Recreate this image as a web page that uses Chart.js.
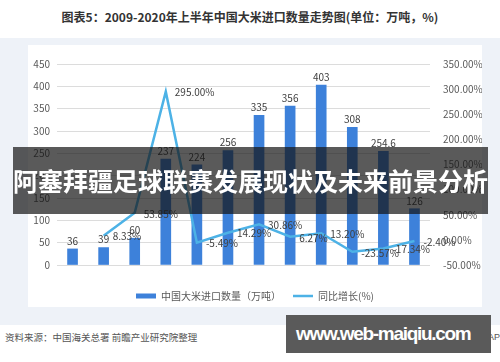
<!DOCTYPE html>
<html>
<head>
<meta charset="utf-8">
<script src="https://cdn.jsdelivr.net/npm/chart.js@4.4.0/dist/chart.umd.min.js"></script>
<style>
body{margin:0;width:500px;height:362px;background:#fff;position:relative;overflow:hidden;font-family:"Noto Sans CJK SC",sans-serif;}
#title{position:absolute;left:0;top:8px;width:500px;text-align:center;font-size:12px;font-weight:bold;color:#333;line-height:18px;}
#panel{position:absolute;left:0;top:38px;width:500px;height:287px;background:#eef2f8;}
#card{position:absolute;left:28px;top:45px;width:454px;height:262px;background:#fff;}
#wrap{position:absolute;left:28px;top:45px;width:454px;height:266px;}
#banner{position:absolute;left:13px;top:147px;width:475px;height:67px;background:rgba(20,20,20,0.7);color:#fff;font-size:25px;font-weight:bold;line-height:67px;text-align:center;}
#source{position:absolute;left:5px;top:329px;font-size:9.5px;color:#555;line-height:16px;}
#app{position:absolute;left:488px;top:329px;font:9px "Liberation Sans",sans-serif;color:#555;line-height:16px;}
#site{position:absolute;left:286px;top:315px;width:205px;height:38px;background:#5a5a5a;color:#fff;font:bold 19px "Liberation Sans",sans-serif;line-height:38px;padding-left:10px;box-sizing:border-box;letter-spacing:-1.3px;}
</style>
</head>
<body>
<div id="title">图表5：2009-2020年上半年中国大米进口数量走势图(单位：万吨，%)</div>
<div id="panel"></div>
<div id="card"></div>
<div id="wrap"><canvas id="chart" width="454" height="266"></canvas></div>
<div id="banner">阿塞拜疆足球联赛发展现状及未来前景分析</div>
<div id="source">资料来源：中国海关总署 前瞻产业研究院整理</div>
<div id="app">APP</div>
<div id="site">www.web-maiqiu.com</div>
<script>
// 数据
const categories = ['2009', '2010', '2011', '2012', '2013', '2014', '2015', '2016', '2017', '2018', '2019', '2020H1'];
const importVolume = [36, 39, 60, 237, 224, 256, 335, 356, 403, 308, 254.6, 126];
const growthRate = [null, 8.33, 53.85, 295.00, -5.49, 14.29, 30.86, 6.27, 13.20, -23.57, -17.34, -2.40];
const seriesNames = ['中国大米进口数量（万吨）', '同比增长(%)'];

const FONT = '"Noto Sans CJK SC", sans-serif';

// 数据标签
const valueLabels = {
    id: 'valueLabels',
    afterDatasetsDraw(chart) {
        const ctx = chart.ctx;
        ctx.save();
        ctx.font = '10px ' + FONT;
        ctx.fillStyle = '#404040';
        chart.getDatasetMeta(0).data.forEach((bar, i) => {
            ctx.textAlign = 'center';
            ctx.textBaseline = 'bottom';
            ctx.fillText(String(importVolume[i]), bar.x, bar.y - 3);
        });
        chart.getDatasetMeta(1).data.forEach((pt, i) => {
            if (growthRate[i] === null) return;
            ctx.textAlign = 'left';
            ctx.textBaseline = 'middle';
            ctx.fillText(growthRate[i].toFixed(2) + '%', pt.x + 9, pt.y + 1);
        });
        ctx.restore();
    }
};

new Chart(document.getElementById('chart'), {
    type: 'bar',
    data: {
        labels: categories,
        datasets: [{
            label: seriesNames[0],
            data: importVolume,
            backgroundColor: '#3d81da',
            barThickness: 10,
            yAxisID: 'y',
            order: 2
        }, {
            type: 'line',
            label: seriesNames[1],
            data: growthRate,
            borderColor: '#4db2e6',
            backgroundColor: '#4db2e6',
            borderWidth: 2.5,
            pointRadius: 0,
            tension: 0,
            yAxisID: 'y1',
            order: 1
        }]
    },
    options: {
        responsive: false,
        animation: false,
        layout: { padding: { top: 12, left: 0, right: 0, bottom: 0 } },
        plugins: {
            tooltip: { enabled: false },
            legend: {
                position: 'bottom',
                labels: {
                    usePointStyle: true,
                    pointStyleWidth: 20,
                    boxHeight: 5,
                    padding: 12,
                    color: '#595959',
                    font: { size: 10, family: FONT },
                    sort: (a, b) => a.datasetIndex - b.datasetIndex,
                    generateLabels(chart) {
                        const items = Chart.defaults.plugins.legend.labels.generateLabels(chart);
                        items.forEach(it => { it.pointStyle = it.datasetIndex === 0 ? 'rect' : 'line'; });
                        return items;
                    }
                }
            }
        },
        scales: {
            x: {
                grid: { display: false },
                border: { display: false },
                ticks: { color: '#595959', font: { size: 10, family: FONT }, padding: 7, maxRotation: 0, autoSkip: false },
                afterFit(s) { s.height = 14; }
            },
            y: {
                position: 'left',
                min: 0,
                max: 450,
                grid: { color: '#dcdcdc', drawTicks: false },
                border: { display: false },
                ticks: { stepSize: 50, color: '#595959', font: { size: 10, family: FONT }, padding: 7 },
                afterFit(s) { s.width = 29; }
            },
            y1: {
                position: 'right',
                min: -50,
                max: 350,
                grid: { display: false, drawTicks: false },
                border: { display: false },
                ticks: {
                    stepSize: 50, color: '#595959', font: { size: 10, family: FONT }, padding: 13,
                    callback: v => v.toFixed(2) + '%'
                },
                afterFit(s) { s.width = 52; }
            }
        }
    },
    plugins: [valueLabels]
});
</script>
</body>
</html>
